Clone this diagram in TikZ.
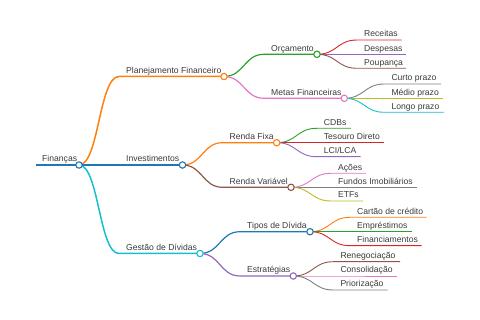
\documentclass[tikz,border=0pt]{standalone}
\usepackage{fontspec}
\setmainfont{Liberation Sans}
\usetikzlibrary{backgrounds}
\definecolor{cblue}{HTML}{1F77B4}
\definecolor{corange}{HTML}{FF7F0E}
\definecolor{cgreen}{HTML}{2CA02C}
\definecolor{cred}{HTML}{D62728}
\definecolor{cpurple}{HTML}{9467BD}
\definecolor{cbrown}{HTML}{8C564B}
\definecolor{cpink}{HTML}{E377C2}
\definecolor{cgray}{HTML}{7F7F7F}
\definecolor{colive}{HTML}{BCBD22}
\definecolor{ccyan}{HTML}{17BECF}
\definecolor{txt}{HTML}{3A3A3A}
\begin{document}
\begin{tikzpicture}[x=1pt,y=-1pt,
  lbl/.style={anchor=base west, inner sep=0pt, text=txt, font=\fontsize{8.6}{10}\selectfont},
  dot/.style={circle, draw, fill=white, inner sep=0pt, minimum size=6.4pt, line width=1.1pt},
  wA/.style={line width=1.5pt},
  wB/.style={line width=1.2pt},
  wC/.style={line width=0.9pt},
  lnk/.style={line cap=round}]
\useasboundingbox (0,0) rectangle (480,320);
% ---- coordinates
\coordinate (root-s) at (36,165);
\coordinate (pl-s) at (119,76.5);
\coordinate (inv-s) at (119,165);
\coordinate (ges-s) at (119,253.5);
\coordinate (orc-s) at (264,54.3);
\coordinate (met-s) at (264,98.3);
\coordinate (rf-s) at (222.5,142.7);
\coordinate (rv-s) at (222.5,187.3);
\coordinate (tip-s) at (240,231.7);
\coordinate (est-s) at (240,276);
\coordinate (rec-s) at (357,40);      \coordinate (rec-e) at (401.7,40);
\coordinate (des-s) at (357,54.3);    \coordinate (des-e) at (406,54.3);
\coordinate (pou-s) at (357,68.3);    \coordinate (pou-e) at (406,68.3);
\coordinate (cur-s) at (384.3,84);    \coordinate (cur-e) at (441,84);
\coordinate (med-s) at (384.3,98.3);  \coordinate (med-e) at (443,98.3);
\coordinate (lon-s) at (384.3,112.3); \coordinate (lon-e) at (444,112.3);
\coordinate (cdb-s) at (316.7,128.3); \coordinate (cdb-e) at (351,128.3);
\coordinate (tes-s) at (316.7,142.7); \coordinate (tes-e) at (384,142.7);
\coordinate (lci-s) at (316.7,156.7); \coordinate (lci-e) at (360.7,156.7);
\coordinate (aco-s) at (331,173.3);   \coordinate (aco-e) at (366,173.3);
\coordinate (fun-s) at (331,187.3);   \coordinate (fun-e) at (416.7,187.3);
\coordinate (etf-s) at (331,201);     \coordinate (etf-e) at (363,201);
\coordinate (car-s) at (350,217.3);   \coordinate (car-e) at (426.7,217.3);
\coordinate (emp-s) at (350,231.7);   \coordinate (emp-e) at (411.7,231.7);
\coordinate (fin-s) at (350,245.7);   \coordinate (fin-e) at (421.7,245.7);
\coordinate (ren-s) at (333.3,261.7); \coordinate (ren-e) at (400,261.7);
\coordinate (con-s) at (333.3,276);   \coordinate (con-e) at (396.7,276);
\coordinate (pri-s) at (333.3,290);   \coordinate (pri-e) at (387.7,290);
% ---- circles
\node[dot, draw=cblue] (root) at (79,165) {};
\node[dot, draw=corange] (pl) at (224,76.5) {};
\node[dot, draw=cblue] (inv) at (182.5,165) {};
\node[dot, draw=ccyan] (ges) at (200,253.5) {};
\node[dot, draw=cgreen] (orc) at (317,54.3) {};
\node[dot, draw=cpink] (met) at (344.3,98.3) {};
\node[dot, draw=corange] (rf) at (276.7,142.7) {};
\node[dot, draw=cbrown] (rv) at (291,187.3) {};
\node[dot, draw=cblue] (tip) at (310,231.7) {};
\node[dot, draw=cpurple] (est) at (293.3,276) {};
% ---- labels
\node[lbl] (t-root) at (42,162) {Finanças};
\node[lbl] (t-pl) at (126,73.5) {Planejamento Financeiro};
\node[lbl] (t-inv) at (126,162) {Investimentos};
\node[lbl] (t-ges) at (126,250.5) {Gestão de Dívidas};
\node[lbl] (t-orc) at (271,51.3) {Orçamento};
\node[lbl] (t-met) at (271,95.3) {Metas Financeiras};
\node[lbl] (t-rf) at (229.5,139.7) {Renda Fixa};
\node[lbl] (t-rv) at (229.5,184.3) {Renda Variável};
\node[lbl] (t-tip) at (247,228.7) {Tipos de Dívida};
\node[lbl] (t-est) at (247,273) {Estratégias};
\node[lbl] (t-rec) at (364,37) {Receitas};
\node[lbl] (t-des) at (364,51.3) {Despesas};
\node[lbl] (t-pou) at (364,65.3) {Poupança};
\node[lbl] (t-cur) at (391.3,81) {Curto prazo};
\node[lbl] (t-med) at (391.3,95.3) {Médio prazo};
\node[lbl] (t-lon) at (391.3,109.3) {Longo prazo};
\node[lbl] (t-cdb) at (323.7,125.3) {CDBs};
\node[lbl] (t-tes) at (323.7,139.7) {Tesouro Direto};
\node[lbl] (t-lci) at (323.7,153.7) {LCI/LCA};
\node[lbl] (t-aco) at (338,170.3) {Ações};
\node[lbl] (t-fun) at (338,184.3) {Fundos Imobiliários};
\node[lbl] (t-etf) at (338,198) {ETFs};
\node[lbl] (t-car) at (357,214.3) {Cartão de crédito};
\node[lbl] (t-emp) at (357,228.7) {Empréstimos};
\node[lbl] (t-fin) at (357,242.7) {Financiamentos};
\node[lbl] (t-ren) at (340.3,258.7) {Renegociação};
\node[lbl] (t-con) at (340.3,273) {Consolidação};
\node[lbl] (t-pri) at (340.3,287) {Priorização};
% ---- connectors
\begin{scope}[on background layer, lnk]
\draw[cblue, wA] (root-s) -- (root.center);
\draw[corange, wA] (root.center) .. controls +(20,0) and +(-20,0) .. (pl-s) -- (pl.center);
\draw[cblue, wA] (root.center) -- (inv-s) -- (inv.center);
\draw[ccyan, wA] (root.center) .. controls +(20,0) and +(-20,0) .. (ges-s) -- (ges.center);
\draw[cgreen, wB] (pl.center) .. controls +(20,0) and +(-20,0) .. (orc-s) -- (orc.center);
\draw[cpink, wB] (pl.center) .. controls +(20,0) and +(-20,0) .. (met-s) -- (met.center);
\draw[corange, wB] (inv.center) .. controls +(20,0) and +(-20,0) .. (rf-s) -- (rf.center);
\draw[cbrown, wB] (inv.center) .. controls +(20,0) and +(-20,0) .. (rv-s) -- (rv.center);
\draw[cblue, wB] (ges.center) .. controls +(20,0) and +(-20,0) .. (tip-s) -- (tip.center);
\draw[cpurple, wB] (ges.center) .. controls +(20,0) and +(-20,0) .. (est-s) -- (est.center);
\draw[cred, wC] (orc.center) .. controls +(20,0) and +(-20,0) .. (rec-s) -- (rec-e);
\draw[cpurple, wC] (orc.center) .. controls +(20,0) and +(-20,0) .. (des-s) -- (des-e);
\draw[cbrown, wC] (orc.center) .. controls +(20,0) and +(-20,0) .. (pou-s) -- (pou-e);
\draw[cgray, wC] (met.center) .. controls +(20,0) and +(-20,0) .. (cur-s) -- (cur-e);
\draw[colive, wC] (met.center) .. controls +(20,0) and +(-20,0) .. (med-s) -- (med-e);
\draw[ccyan, wC] (met.center) .. controls +(20,0) and +(-20,0) .. (lon-s) -- (lon-e);
\draw[cgreen, wC] (rf.center) .. controls +(20,0) and +(-20,0) .. (cdb-s) -- (cdb-e);
\draw[cred, wC] (rf.center) .. controls +(20,0) and +(-20,0) .. (tes-s) -- (tes-e);
\draw[cpurple, wC] (rf.center) .. controls +(20,0) and +(-20,0) .. (lci-s) -- (lci-e);
\draw[cpink, wC] (rv.center) .. controls +(20,0) and +(-20,0) .. (aco-s) -- (aco-e);
\draw[cgray, wC] (rv.center) .. controls +(20,0) and +(-20,0) .. (fun-s) -- (fun-e);
\draw[colive, wC] (rv.center) .. controls +(20,0) and +(-20,0) .. (etf-s) -- (etf-e);
\draw[corange, wC] (tip.center) .. controls +(20,0) and +(-20,0) .. (car-s) -- (car-e);
\draw[cgreen, wC] (tip.center) .. controls +(20,0) and +(-20,0) .. (emp-s) -- (emp-e);
\draw[cred, wC] (tip.center) .. controls +(20,0) and +(-20,0) .. (fin-s) -- (fin-e);
\draw[cbrown, wC] (est.center) .. controls +(20,0) and +(-20,0) .. (ren-s) -- (ren-e);
\draw[cpink, wC] (est.center) .. controls +(20,0) and +(-20,0) .. (con-s) -- (con-e);
\draw[cgray, wC] (est.center) .. controls +(20,0) and +(-20,0) .. (pri-s) -- (pri-e);
\end{scope}
\end{tikzpicture}
\end{document}
